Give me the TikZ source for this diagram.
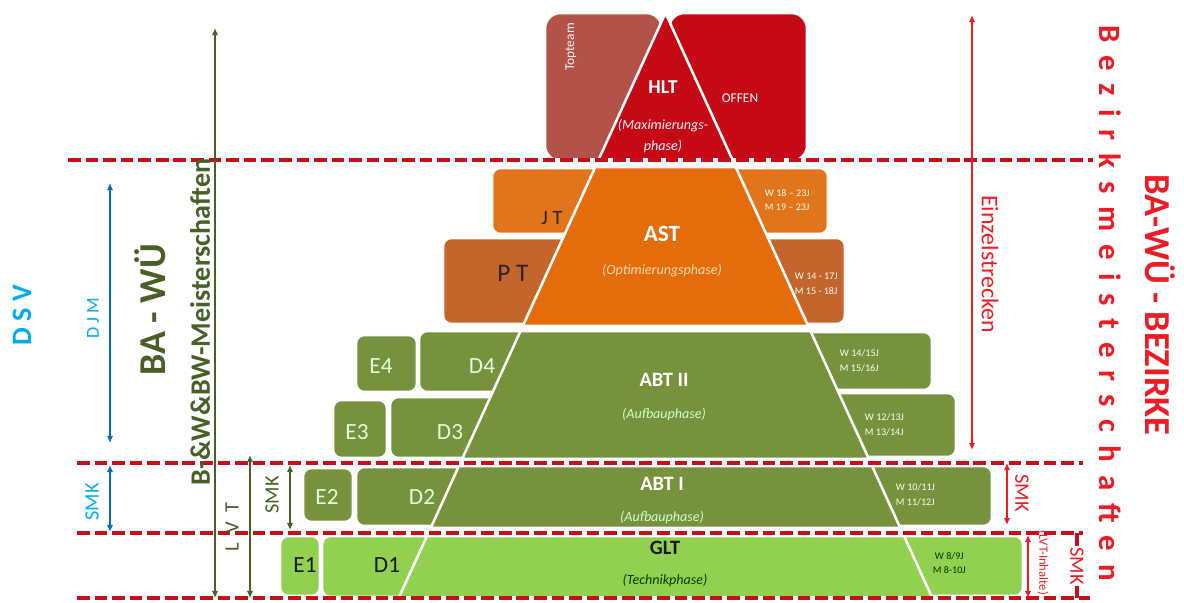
\documentclass[tikz,border=0pt]{standalone}
\usepackage{fontspec}
\setmainfont{Carlito}
\usetikzlibrary{arrows.meta}

\definecolor{hltred}{RGB}{197,10,22}
\definecolor{topteambrown}{RGB}{178,82,72}
\definecolor{astorange}{RGB}{228,108,10}
\definecolor{jtorange}{RGB}{226,116,28}
\definecolor{ptbrown}{RGB}{196,102,44}
\definecolor{abtgreen}{RGB}{118,146,60}
\definecolor{gltgreen}{RGB}{146,208,80}
\definecolor{dashred}{RGB}{200,14,26}
\definecolor{annored}{RGB}{236,28,36}
\definecolor{annogreen}{RGB}{72,96,38}
\definecolor{dsvblue}{RGB}{0,172,236}
\definecolor{arrowblue}{RGB}{0,112,192}

\begin{document}
\begin{tikzpicture}[x=0.025cm, y=-0.025cm, font=\fontsize{10}{12}\selectfont]

% Styles
\tikzset{
  piece/.style={draw=white, line width=1.8pt},
  sidebox/.style={piece, rounded corners=6pt},
  hltbox/.style={piece, rounded corners=11pt},
  levelline/.style={
    draw=dashred,
    line width=2.8pt,
    dash pattern=on 9pt off 3.5pt,
    preaction={draw=white, line width=3.4pt, solid}
  },
  title/.style={font=\bfseries\fontsize{14.5}{16}\selectfont, text=white},
  phase/.style={font=\itshape\fontsize{10}{12}\selectfont, align=center},
  agetext/.style={font=\fontsize{7.2}{10.5}\selectfont, align=left, anchor=west, text=white!92!yellow},
  groupkey/.style={font=\fontsize{16.5}{18}\selectfont, text=white!86!green},
  dimarrow/.style={
    {Latex[length=5pt,width=4.5pt]}-{Latex[length=5pt,width=4.5pt]},
    line width=1.3pt
  },
  sidelabel/.style={font=\fontsize{14.5}{16}\selectfont, rotate=90},
  redlabel/.style={font=\fontsize{14.5}{16}\selectfont, rotate=-90, text=annored}
}

\useasboundingbox (0,0) rectangle (1184,603);
\clip (0,0) rectangle (1184,603);

% HLT (Maximierungsphase)
\draw[hltbox, fill=topteambrown] (545,13) rectangle (662,161);
\draw[hltbox, fill=hltred] (669,13) rectangle (807,161);
\draw[piece, fill=hltred] (665.5,13) -- (733,161) -- (598,161) -- cycle;

% AST (Optimierungsphase)
\draw[sidebox, fill=jtorange] (492,168) rectangle (640,234);
\draw[sidebox, fill=ptbrown] (443,238) rectangle (640,324);
\draw[sidebox, fill=jtorange] (690,168) rectangle (828,234);
\draw[sidebox, fill=ptbrown] (690,238) rectangle (845,324);
\draw[piece, fill=astorange] (595.3,167) -- (735.7,167) -- (808.2,326) -- (522.8,326) -- cycle;

% ABT II
\draw[sidebox, fill=abtgreen] (356,335) rectangle (417,392);
\draw[sidebox, fill=abtgreen] (419,331) rectangle (640,392);
\draw[sidebox, fill=abtgreen] (333,400) rectangle (387,458);
\draw[sidebox, fill=abtgreen] (390,397) rectangle (640,458);
\draw[sidebox, fill=abtgreen] (690,332) rectangle (932,390);
\draw[sidebox, fill=abtgreen] (690,393) rectangle (956,457);
\draw[piece, fill=abtgreen] (520.5,331) -- (810.5,331) -- (868.9,459) -- (462.1,459) -- cycle;

% ABT I
\draw[sidebox, fill=abtgreen] (303,468) rectangle (353,522);
\draw[sidebox, fill=abtgreen] (356,467) rectangle (640,526);
\draw[sidebox, fill=abtgreen] (690,466) rectangle (992,526);
\draw[piece, fill=abtgreen] (458.9,466) -- (872.1,466) -- (900.3,528) -- (430.7,528) -- cycle;

% GLT (Technikphase)
\draw[sidebox, fill=gltgreen] (280,536) rectangle (320,596);
\draw[sidebox, fill=gltgreen] (322,536) rectangle (640,597);
\draw[sidebox, fill=gltgreen] (690,536) rectangle (1023,596);
\draw[piece, fill=gltgreen] (427,536) -- (904,536) -- (932.3,598) -- (398.7,598) -- cycle;

% Level lines
\draw[levelline] (68,160) -- (1093,160);
\draw[levelline] (77,463) -- (1083,463);
\draw[levelline] (77,533) -- (1083,533);
\draw[levelline] (77,598) -- (1090,598);
\draw[levelline] (1077,533) -- (1077,598);

% Texts in the pyramid
\node[rotate=90, font=\fontsize{9.5}{11}\selectfont, text=white!82!pink] (topteam) at (571,47) {Topteam};
\node[title, font=\bfseries\fontsize{14}{16}\selectfont] (hlt) at (663,87) {HLT};
\node[phase, font=\itshape\fontsize{10}{15.5}\selectfont, text=white!85!pink] (hltphase) at (663,136) {(Maximierungs-\\phase)};
\node[font=\fontsize{9.5}{11}\selectfont, text=white] (offen) at (740,98) {OFFEN};

\node[font=\fontsize{14.5}{16}\selectfont, text=black!85] (jt) at (552,218) {J T};
\node[font=\fontsize{18}{20}\selectfont, text=black!85] (pt) at (513,273) {P T};
\node[title, font=\bfseries\fontsize{16.5}{18}\selectfont] (ast) at (662,234) {AST};
\node[phase, text=orange!30!white] (astphase) at (662,271) {(Optimierungsphase)};
\node[agetext] (jtage) at (760,200) {W 18 – 23J\\M 19 – 23J};
\node[agetext] (ptage) at (790,284) {W 14 - 17J\\M 15 - 18J};

\node[groupkey] (e4) at (381,366) {E4};
\node[groupkey] (d4) at (482,366) {D4};
\node[groupkey] (e3) at (357,432) {E3};
\node[groupkey] (d3) at (450,432) {D3};
\node[title] (abt2) at (664,380) {ABT II};
\node[phase, text=white!80!green] (abt2phase) at (664,414) {(Aufbauphase)};
\node[agetext] (d4age) at (835,361) {W 14/15J\\M 15/16J};
\node[agetext] (d3age) at (860,425) {W 12/13J\\M 13/14J};

\node[groupkey] (e2) at (327,497) {E2};
\node[groupkey] (d2) at (422,497) {D2};
\node[title] (abt1) at (662,484) {ABT I};
\node[phase, text=white!80!green] (abt1phase) at (662,517) {(Aufbauphase)};
\node[agetext] (d2age) at (891,495) {W 10/11J\\M 11/12J};

\node[groupkey, text=black!90] (e1) at (305,565) {E1};
\node[groupkey, text=black!90] (d1) at (387,565) {D1};
\node[title, text=black!90] (glt) at (665,548) {GLT};
\node[phase, text=black!75!green] (gltphase) at (665,580) {(Technikphase)};
\node[agetext, align=center, text=black!80!green] (d1age) at (928,563) {W 8/9J\\M 8-10J};

% Left side (DSV / BA-WUE)
\coordinate (djmtop) at (110,183);
\coordinate (djmbot) at (110,443);
\coordinate (smkbluetop) at (110,465);
\coordinate (smkbluebot) at (110,532);
\coordinate (bwtop) at (215,28);
\coordinate (bwbot) at (215,598);
\coordinate (lvttop) at (250,455);
\coordinate (lvtbot) at (250,598);
\coordinate (smkgreentop) at (290,465);
\coordinate (smkgreenbot) at (290,530);

\draw[dimarrow, arrowblue] (djmtop) -- (djmbot);
\draw[dimarrow, arrowblue] (smkbluetop) -- (smkbluebot);
\draw[dimarrow, annogreen] (bwtop) -- (bwbot);
\draw[dimarrow, annogreen] (lvttop) -- (lvtbot);
\draw[dimarrow, annogreen] (smkgreentop) -- (smkgreenbot);

\node[rotate=90, font=\bfseries\fontsize{20}{22}\selectfont, text=dsvblue] (dsv) at (22,315) {D S V};
\node[sidelabel, font=\fontsize{13}{14}\selectfont, text=dsvblue] (djm) at (93,318) {D J M};
\node[sidelabel, text=dsvblue] (smkblue) at (92,502) {SMK};
\node[rotate=90, font=\bfseries\fontsize{27}{30}\selectfont, text=annogreen] (bawue) at (150,310) {BA - WÜ};
\node[rotate=90, font=\bfseries\fontsize{20}{24}\selectfont, text=annogreen] (bwmeister) at (200,322) {B-\&W\&BW-Meisterschaften};
\node[sidelabel, text=annogreen] (lvt) at (232,527) {L\ \ V\ \ T};
\node[sidelabel, text=annogreen] (smkgreen) at (272,495) {SMK};

% Right side (Bezirke)
\coordinate (einzeltop) at (972,15);
\coordinate (einzelbot) at (972,450);
\coordinate (smkredtop) at (1007,463);
\coordinate (smkredbot) at (1007,525);
\coordinate (lvtredtop) at (1028,535);
\coordinate (lvtredbot) at (1028,598);

\draw[dimarrow, annored] (einzeltop) -- (einzelbot);
\draw[dimarrow, annored] (smkredtop) -- (smkredbot);
\draw[dimarrow, annored] (lvtredtop) -- (lvtredbot);

\node[rotate=-90, font=\fontsize{17}{19}\selectfont, text=annored] (einzel) at (990,264) {Einzelstrecken};
\node[rotate=-90, font=\bfseries\fontsize{22}{24}\selectfont\addfontfeature{LetterSpace=42}, text=annored] (bezmeister) at (1110,303) {Bezirksmeisterschaften};
\node[rotate=-90, font=\bfseries\fontsize{26}{28}\selectfont, text=annored] (bawuebez) at (1160,305) {BA-WÜ - BEZIRKE};
\node[redlabel] (smkred) at (1022,493) {SMK};
\node[redlabel, fill=white, inner sep=1pt] (smkredlow) at (1077,566) {SMK};
\node[rotate=-90, anchor=west, inner sep=1pt, font=\fontsize{9}{10}\selectfont, text=annored] (lvtinhalte) at (1043,529) {(LVT-Inhalte)};

\end{tikzpicture}
\end{document}
